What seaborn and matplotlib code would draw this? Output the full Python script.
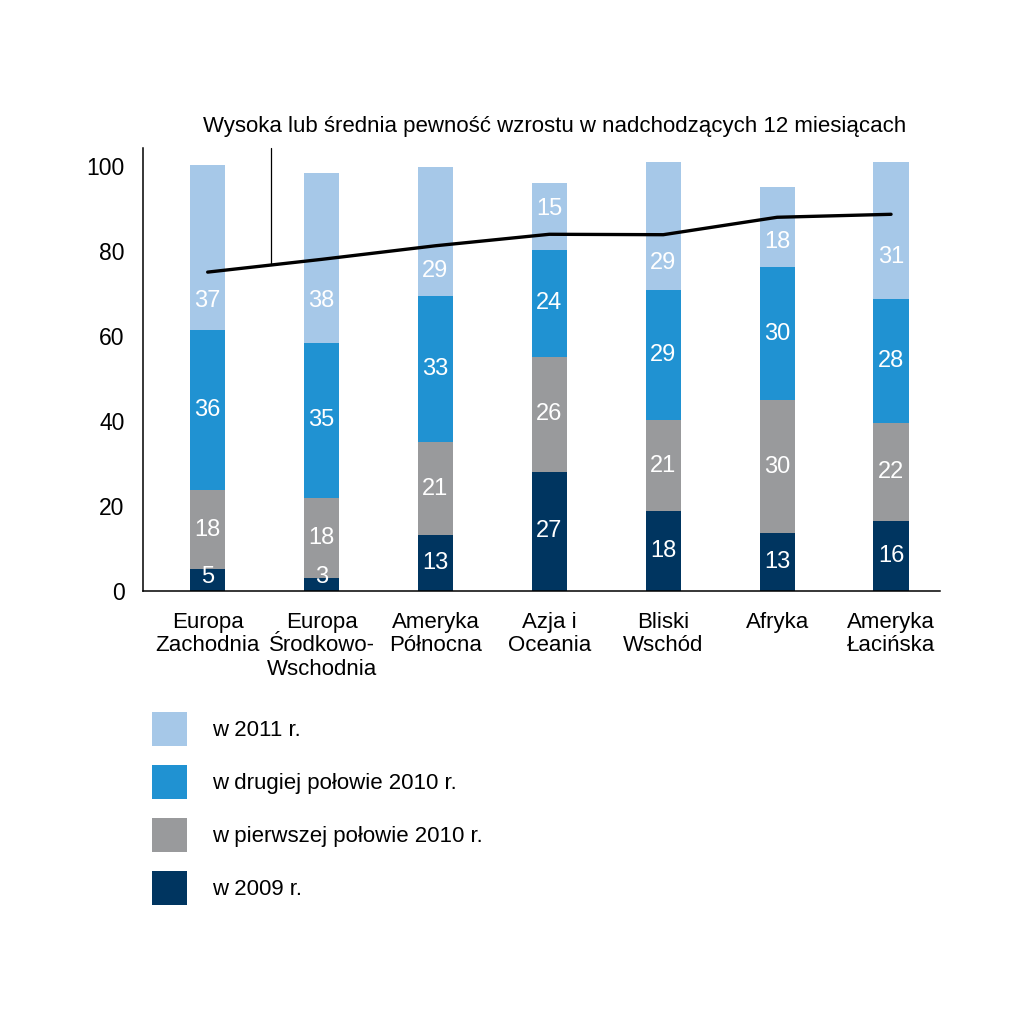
import numpy as np
import pandas as pd
import seaborn as sns
from matplotlib import pyplot as plt
from matplotlib.patches import Patch

sns.set_style("white")
plt.rcParams['font.family'] = ['Liberation Sans', 'DejaVu Sans']
plt.rcParams['text.color'] = 'black'
plt.rcParams['xtick.color'] = 'black'
plt.rcParams['ytick.color'] = 'black'

regions = ["Europa\nZachodnia", "Europa\nŚrodkowo-\nWschodnia", "Ameryka\nPółnocna",
           "Azja i\nOceania", "Bliski\nWschód", "Afryka", "Ameryka\nŁacińska"]

series = ["w 2009 r.", "w pierwszej połowie 2010 r.", "w drugiej połowie 2010 r.", "w 2011 r."]
colors = ["#003560", "#999a9c", "#2092d2", "#a6c8e8"]

# printed values
lab_2009 = [5, 3, 13, 27, 18, 13, 16]
lab_2010a = [18, 18, 21, 26, 21, 30, 22]
lab_2010b = [36, 35, 33, 24, 29, 30, 28]
lab_2011 = [37, 38, 29, 15, 29, 18, 31]

# segment heights as drawn in the original
h_2009 = [5.1, 3.1, 13.2, 28.1, 18.7, 13.6, 16.5]
h_2010a = [18.7, 18.7, 21.8, 27.0, 21.5, 31.3, 23.0]
h_2010b = [37.6, 36.6, 34.5, 25.1, 30.5, 31.3, 29.2]
h_2011 = [38.7, 39.9, 30.3, 15.7, 30.3, 18.9, 32.3]

# high or medium confidence line
confidence = [75.0, 78.0, 81.2, 83.9, 83.8, 87.9, 88.6]

heights = np.array([h_2009, h_2010a, h_2010b, h_2011])
labels = np.array([lab_2009, lab_2010a, lab_2010b, lab_2011])
tops = heights.cumsum(axis=0)

fig = plt.figure(figsize=(10.24, 10.17), dpi=100)
ax = fig.add_axes([0.1394, 0.4189, 0.7786, 0.4356])

# draw from the top segment down so each stack overlaps the previous one
for i in range(3, -1, -1):
    df = pd.DataFrame({"region": regions, "top": tops[i]})
    sns.barplot(data=df, x="region", y="top", color=colors[i], width=0.31,
                saturation=1, errorbar=None, linewidth=0, edgecolor="none", ax=ax)

for i in range(4):
    bottoms = tops[i] - heights[i]
    for j in range(len(regions)):
        lo, hi = bottoms[j], tops[i][j]
        y = max((lo + hi) / 2, 3.4)
        c = confidence[j]
        # keep the top labels clear of the line
        if i == 3 and lo < c < hi:
            y = (lo + c) / 2 if c - lo >= 10 else (c + hi) / 2
        ax.text(j, y, str(labels[i][j]), color="white",
                ha="center", va="center", fontsize=17)

xs = np.arange(len(regions))
sns.lineplot(x=xs, y=confidence, color="black", linewidth=2.4, ax=ax)

ymax = 104.2
px = 0.56
ax.plot([px, px], [np.interp(px, xs, confidence), ymax], color="black", linewidth=0.9,
        clip_on=False)

ax.set_ylim(0, ymax)
ax.set_xlim(-0.57, 6.43)
ax.set_yticks([0, 20, 40, 60, 80, 100])
ax.set_xlabel("")
ax.set_ylabel("")
ax.tick_params(axis="y", length=0, pad=13, labelsize=16.5)
ax.tick_params(axis="x", length=0, pad=15, labelsize=16)
for t in ax.get_xticklabels():
    t.set_linespacing(1.15)
sns.despine(ax=ax)
for s in ["left", "bottom"]:
    ax.spines[s].set_color("black")
    ax.spines[s].set_linewidth(1.1)

fig.text(0.542, 0.876, "Wysoka lub średnia pewność wzrostu w nadchodzących 12 miesiącach",
         ha="center", va="center", fontsize=16)

handles = [Patch(facecolor=colors[i], edgecolor="none") for i in range(3, -1, -1)]
fig.legend(handles, series[::-1], loc="upper left", bbox_to_anchor=(0.1484, 0.3),
           frameon=False, fontsize=16, handlelength=1.58, handleheight=1.98,
           labelspacing=0.85, handletextpad=1.13, borderpad=0, borderaxespad=0)

fig.savefig("out.png", dpi=100, facecolor="white")
